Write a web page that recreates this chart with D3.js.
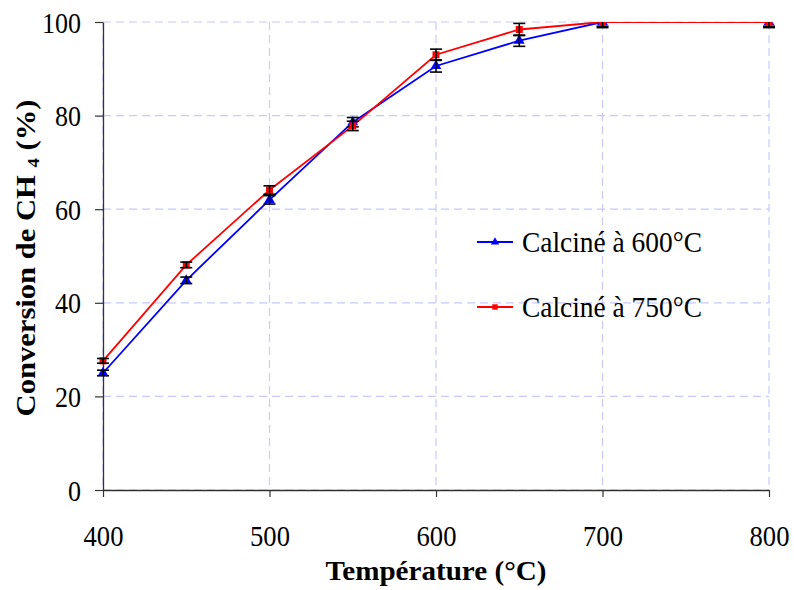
<!DOCTYPE html>
<html><head><meta charset="utf-8">
<script src="https://cdn.jsdelivr.net/npm/d3@7"></script>
<style>body{margin:0;background:#fff}svg{display:block}</style>
</head><body>
<svg id="c" width="794" height="590"></svg>
<script>
const temps = [400, 450, 500, 550, 600, 650, 700, 800];
const calc600 = [25.0, 44.8, 62.0, 78.6, 90.6, 96.0, 100, 100];
const calc600Err = [0.6, 0.7, 0.9, 1.0, 1.3, 1.2, 0.9, 0.9];
const calc750 = [27.6, 48.1, 64.1, 77.8, 93.0, 98.4, 100, 100];
const calc750Err = [0.5, 0.6, 0.9, 1.0, 1.2, 1.3, 1.2, 1.2];
const xTicks = [400, 500, 600, 700, 800];
const yTicks = [0, 20, 40, 60, 80, 100];
const seriesNames = ["Calciné à 600°C", "Calciné à 750°C"];

const svg = d3.select("#c");
const L = 103, R = 769, T = 22, B = 490;
const x = d3.scaleLinear().domain([400, 800]).range([L, R]);
const y = d3.scaleLinear().domain([0, 100]).range([B, T]);
const font = "'Liberation Serif', 'DejaVu Serif', 'Times New Roman', serif";

function fitW(sel, perChar) {
  sel.each(function() {
    const n = this.textContent.length;
    d3.select(this).attr("textLength", n * perChar).attr("lengthAdjust", "spacingAndGlyphs");
  });
}
function fit(sel, w) {
  sel.attr("textLength", w).attr("lengthAdjust", "spacingAndGlyphs");
}

// grid
const grid = svg.append("g").attr("stroke", "#c8c8ff").attr("stroke-width", 1.2).attr("stroke-dasharray", "8,5");
grid.selectAll("line.h").data(yTicks).join("line")
  .attr("x1", L).attr("x2", R).attr("y1", d => y(d)).attr("y2", d => y(d));
grid.selectAll("line.v").data(xTicks).join("line")
  .attr("y1", T).attr("y2", B).attr("x1", d => x(d)).attr("x2", d => x(d));

// axes
const xAxis = svg.append("g").attr("transform", `translate(0,${B})`)
  .call(d3.axisBottom(x).tickValues(xTicks).tickSize(7).tickSizeOuter(0).tickFormat(d3.format("d")));
const yAxis = svg.append("g").attr("transform", `translate(${L},0)`)
  .call(d3.axisLeft(y).tickValues(yTicks).tickSize(8).tickSizeOuter(0));
[xAxis, yAxis].forEach(a => {
  a.attr("font-family", font);
  a.select(".domain").attr("stroke", "#333").attr("stroke-width", 1.3);
  a.selectAll(".tick line").attr("stroke", "#333").attr("stroke-width", 1.2);
  a.selectAll("text").attr("font-family", font).attr("font-size", 29).attr("fill", "#000");
});
xAxis.selectAll("text").attr("dy", 0).attr("y", 56);
yAxis.selectAll("text").attr("x", -22).attr("dy", 0).attr("y", 10);
fitW(xAxis.selectAll("text"), 13.3);
fitW(yAxis.selectAll("text"), 13.0);

// axis titles
const xt = svg.append("text").attr("x", (L + R) / 2).attr("y", 580).attr("text-anchor", "middle")
  .attr("font-family", font).attr("font-size", 28).attr("font-weight", "bold").text("Température (°C)");
fit(xt, 221);
const ytg = svg.append("g").attr("transform", `translate(35,258) rotate(-90)`);
const yt = ytg.append("text").attr("text-anchor", "middle")
  .attr("font-family", font).attr("font-size", 28).attr("font-weight", "bold");
yt.append("tspan").text("Conversion de CH ");
yt.append("tspan").attr("font-size", 17).attr("dy", 4).text("4");
yt.append("tspan").attr("dy", -4).text(" (%)");
{
  const w = yt.node().getComputedTextLength();
  yt.attr("transform", `scale(${317 / w},1)`);
}

// clip
svg.append("clipPath").attr("id", "clp").append("rect").attr("x", L - 20).attr("y", T).attr("width", R - L + 40).attr("height", B - T + 10);

const series = [
  {vals: calc600, err: calc600Err, color: "#0000ff", shape: d3.symbolTriangle, size: 50},
  {vals: calc750, err: calc750Err, color: "#ff0000", shape: d3.symbolSquare, size: 49}
];
const line = d3.line().x(d => x(d[0])).y(d => y(d[1]));
const pg = svg.append("g").attr("clip-path", "url(#clp)");

series.forEach(s => {
  const pts = temps.map((t, i) => [t, s.vals[i], s.err[i]]);
  pg.append("path").datum(pts).attr("d", line).attr("fill", "none").attr("stroke", s.color).attr("stroke-width", 1.8);
});
series.forEach(s => {
  const pts = temps.map((t, i) => [t, s.vals[i], s.err[i]]);
  const g = pg.append("g");
  g.selectAll("path.m").data(pts).join("path")
    .attr("transform", d => `translate(${x(d[0])},${y(d[1])})`)
    .attr("d", d3.symbol().type(s.shape).size(s.size)).attr("fill", s.color);
  const eb = g.append("g").attr("stroke", "#000").attr("stroke-width", 1.6);
  eb.selectAll("line.v").data(pts).join("line")
    .attr("x1", d => x(d[0])).attr("x2", d => x(d[0]))
    .attr("y1", d => y(d[1] - d[2])).attr("y2", d => y(d[1] + d[2]));
  eb.selectAll("line.lo").data(pts).join("line")
    .attr("x1", d => x(d[0]) - 6).attr("x2", d => x(d[0]) + 6)
    .attr("y1", d => y(d[1] - d[2])).attr("y2", d => y(d[1] - d[2]));
  eb.selectAll("line.hi").data(pts.filter(d => d[1] + d[2] <= 100)).join("line")
    .attr("x1", d => x(d[0]) - 6).attr("x2", d => x(d[0]) + 6)
    .attr("y1", d => y(d[1] + d[2])).attr("y2", d => y(d[1] + d[2]));
});

// legend
const leg = svg.append("g");
series.forEach((s, i) => {
  const ly = 242 + i * 65;
  leg.append("line").attr("x1", 477).attr("x2", 513).attr("y1", ly).attr("y2", ly).attr("stroke", s.color).attr("stroke-width", 1.8);
  leg.append("path").attr("transform", `translate(495,${ly})`).attr("d", d3.symbol().type(s.shape).size(s.size * 0.6)).attr("fill", s.color);
  const t = leg.append("text").attr("x", 522).attr("y", ly + 10).attr("font-family", font).attr("font-size", 29).text(seriesNames[i]);
  fit(t, 180);
});
</script>
</body></html>
